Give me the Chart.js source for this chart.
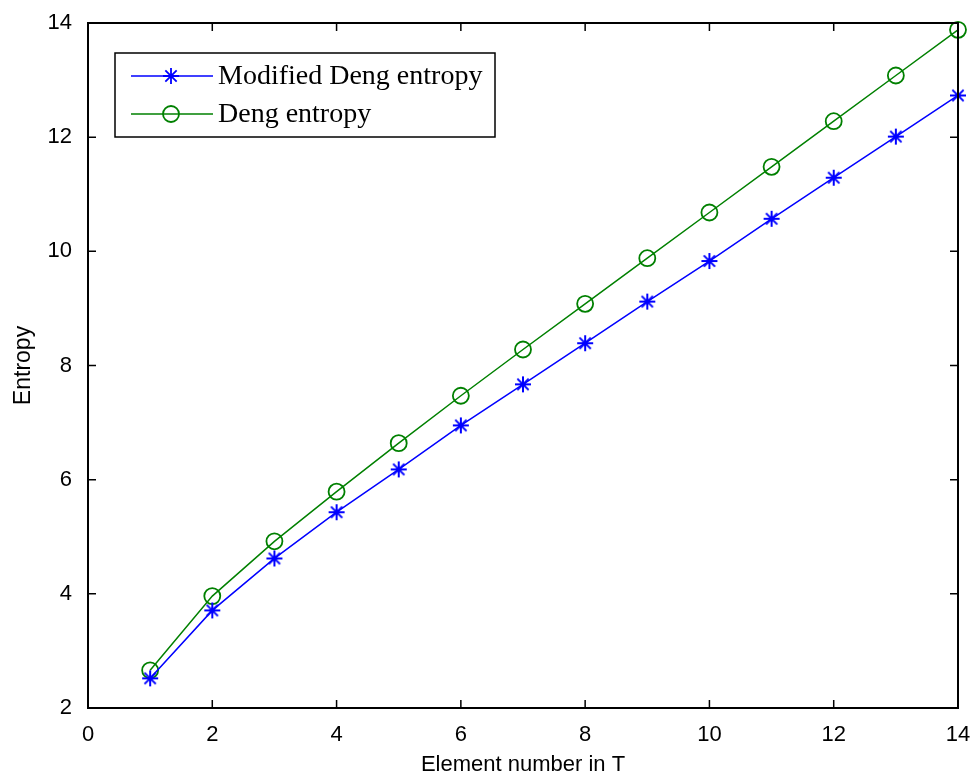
<!DOCTYPE html>
<html>
<head>
<meta charset="utf-8">
<script src="https://cdn.jsdelivr.net/npm/chart.js@4.4.1/dist/chart.umd.min.js"></script>
<style>
html,body{margin:0;padding:0;background:#fff;}
#wrap{width:973px;height:778px;}
</style>
</head>
<body>
<div id="wrap"><canvas id="c" width="973" height="778"></canvas></div>
<script>
const elementNumbers = [1,2,3,4,5,6,7,8,9,10,11,12,13,14];
const modifiedDeng = [2.52,3.71,4.62,5.43,6.18,6.95,7.67,8.39,9.12,9.83,10.57,11.29,12.01,12.73];
const dengEntropy = [2.66,3.96,4.92,5.79,6.64,7.47,8.28,9.08,9.88,10.68,11.48,12.28,13.08,13.88];
const xTicks = [0,2,4,6,8,10,12,14];
const yTicks = [2,4,6,8,10,12,14];
const seriesLabels = ['Modified Deng entropy','Deng entropy'];
const xTitle = 'Element number in T';
const yTitle = 'Entropy';

const tickFont = '"Liberation Sans Narrow","Liberation Sans",Arial,sans-serif';
const legendFont = '"Liberation Serif","Times New Roman",serif';

function starPath(ctx, x, y, r){
  ctx.beginPath();
  for(let i=0;i<4;i++){
    const a = i*Math.PI/4;
    ctx.moveTo(x-r*Math.cos(a), y-r*Math.sin(a));
    ctx.lineTo(x+r*Math.cos(a), y+r*Math.sin(a));
  }
  ctx.stroke();
}

const frame = {
  id:'frame',
  afterDatasetsDraw(chart){
    const {ctx, chartArea:a, scales:{x,y}} = chart;
    ctx.save();
    ctx.strokeStyle='#000';
    ctx.lineWidth=2;
    ctx.strokeRect(a.left,a.top,a.right-a.left,a.bottom-a.top);
    ctx.lineWidth=1.5;
    const L=8;
    ctx.beginPath();
    xTicks.forEach(v=>{
      const px=x.getPixelForValue(v);
      ctx.moveTo(px,a.bottom); ctx.lineTo(px,a.bottom-L);
      ctx.moveTo(px,a.top); ctx.lineTo(px,a.top+L);
    });
    yTicks.forEach(v=>{
      const py=y.getPixelForValue(v);
      ctx.moveTo(a.left,py); ctx.lineTo(a.left+L,py);
      ctx.moveTo(a.right,py); ctx.lineTo(a.right-L,py);
    });
    ctx.stroke();

    // legend
    const lx=115, ly=53, lw=380, lh=84;
    ctx.fillStyle='#fff';
    ctx.fillRect(lx,ly,lw,lh);
    ctx.lineWidth=1.5;
    ctx.strokeStyle='#000';
    ctx.strokeRect(lx,ly,lw,lh);
    const rows=[
      {label:seriesLabels[0], color:'#0000ff', marker:'star', y:ly+23},
      {label:seriesLabels[1], color:'#008000', marker:'circle', y:ly+61}
    ];
    rows.forEach(r=>{
      ctx.strokeStyle=r.color;
      ctx.lineWidth=1.5;
      ctx.beginPath(); ctx.moveTo(131,r.y); ctx.lineTo(213,r.y); ctx.stroke();
      ctx.lineWidth=1.8;
      if(r.marker==='star'){ starPath(ctx,171,r.y,8); }
      else { ctx.beginPath(); ctx.arc(171,r.y,8,0,Math.PI*2); ctx.stroke(); }
      ctx.fillStyle='#000';
      ctx.font='28px '+legendFont;
      ctx.textBaseline='middle';
      ctx.textAlign='left';
      ctx.fillText(r.label,218,r.y+1);
    });
    ctx.restore();
  }
};

const starStyle = (function(){
  const c=document.createElement('canvas');
  c.width=20;c.height=20;
  const g=c.getContext('2d');
  g.strokeStyle='#0000ff'; g.lineWidth=2;
  starPath(g,10,10,8);
  return c;
})();

new Chart(document.getElementById('c'),{
  type:'line',
  data:{
    datasets:[
      {label:seriesLabels[0], data:elementNumbers.map((v,i)=>({x:v,y:modifiedDeng[i]})),
       borderColor:'#0000ff', borderWidth:1.5, pointStyle:starStyle, pointRadius:8,
       backgroundColor:'#0000ff', fill:false, tension:0, clip:false},
      {label:seriesLabels[1], data:elementNumbers.map((v,i)=>({x:v,y:dengEntropy[i]})),
       borderColor:'#008000', borderWidth:1.5, pointStyle:'circle', pointRadius:8,
       pointBorderWidth:1.8, pointBackgroundColor:'rgba(0,0,0,0)', pointBorderColor:'#008000', fill:false, tension:0, clip:false}
    ]
  },
  options:{
    responsive:false,
    animation:false,
    layout:{padding:{top:23,right:15,left:0,bottom:0}},
    plugins:{legend:{display:false},tooltip:{enabled:false}},
    scales:{
      x:{type:'linear',min:0,max:14,
        afterBuildTicks(s){s.ticks=xTicks.map(v=>({value:v}));},
        afterFit(s){s.height=70; s.paddingRight=0; s.paddingLeft=0;},
        grid:{display:false},
        border:{display:false},
        ticks:{color:'#000',font:{family:tickFont,size:22},padding:6,maxRotation:0},
        title:{display:true,text:xTitle,color:'#000',font:{family:tickFont,size:22},padding:{top:4,bottom:0}}
      },
      y:{type:'linear',min:2,max:14,
        afterBuildTicks(s){s.ticks=yTicks.map(v=>({value:v}));},
        afterFit(s){s.width=88; s.paddingTop=0; s.paddingBottom=0;},
        grid:{display:false},
        border:{display:false},
        ticks:{color:'#000',font:{family:tickFont,size:22},padding:8},
        title:{display:true,text:yTitle,color:'#000',font:{family:tickFont,size:23},padding:{top:10,bottom:0}}
      }
    }
  },
  plugins:[frame]
});
</script>
</body>
</html>
